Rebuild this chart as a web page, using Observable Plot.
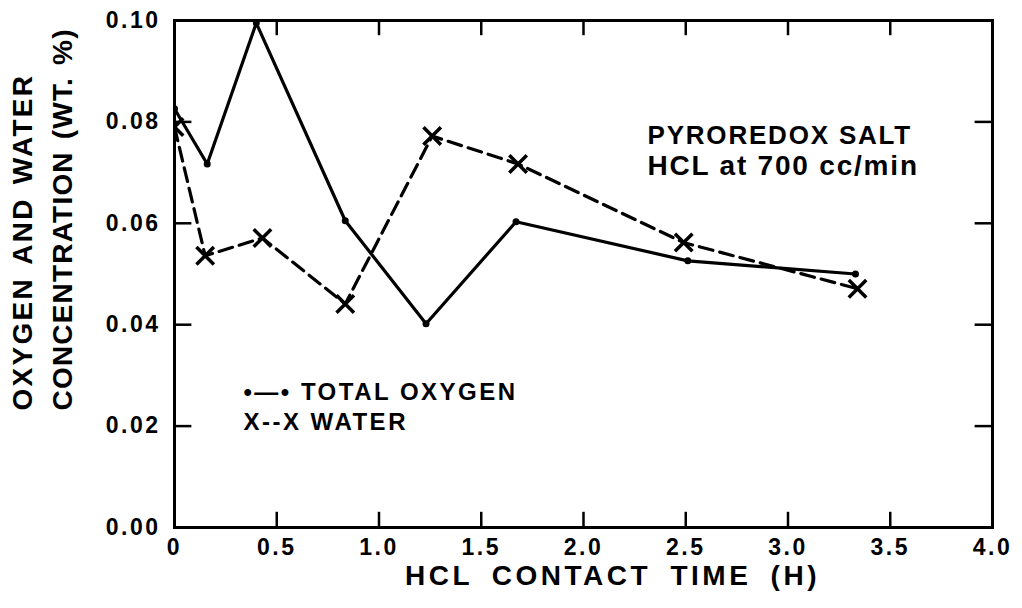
<!DOCTYPE html>
<html>
<head>
<meta charset="utf-8">
<script src="https://cdn.jsdelivr.net/npm/d3@7"></script>
<script src="https://cdn.jsdelivr.net/npm/@observablehq/plot@0.6"></script>
<style>
  html, body { margin: 0; padding: 0; background: #fff; }
  svg text { font-weight: bold; }
  g[aria-label="x-axis tick label"] text, g[aria-label="y-axis tick label"] text { letter-spacing: 2.5px; }
  .ttlx text { letter-spacing: 3.5px; word-spacing: 8px; }
  .ttly1 text { letter-spacing: 2.3px; word-spacing: 3px; }
  .ttly2 text { letter-spacing: 1.2px; word-spacing: 3px; }
  .leg text { letter-spacing: 2.5px; }
  .ann text { letter-spacing: 1.8px; }
</style>
</head>
<body>
<div id="chart"></div>
<script>
// Total oxygen (solid line with dots)
const oxygenTime = [0, 0.16, 0.40, 0.835, 1.23, 1.67, 2.51, 3.33];
const oxygenConc = [0.0826, 0.0717, 0.0995, 0.0605, 0.0402, 0.0603, 0.0526, 0.0500];
// Water (dashed line with x markers)
const waterTime = [0, 0.15, 0.43, 0.835, 1.26, 1.68, 2.49, 3.34];
const waterConc = [0.0790, 0.0536, 0.0571, 0.0441, 0.0772, 0.0717, 0.0562, 0.0471];
// Axis ticks
const xTicks = [0, 0.5, 1.0, 1.5, 2.0, 2.5, 3.0, 3.5, 4.0];
const yTicks = [0, 0.02, 0.04, 0.06, 0.08, 0.10];
const xLabels = ["0", "0.5", "1.0", "1.5", "2.0", "2.5", "3.0", "3.5", "4.0"];
const yLabels = ["0.00", "0.02", "0.04", "0.06", "0.08", "0.10"];

const oxygen = oxygenTime.map((t, i) => ({t, v: oxygenConc[i]}));
const water = waterTime.map((t, i) => ({t, v: waterConc[i]}));

const font = "'Liberation Sans', Arial, Helvetica, sans-serif";

const chart = Plot.plot({
  width: 1022,
  height: 608,
  marginLeft: 174,
  marginRight: 30,
  marginTop: 20,
  marginBottom: 81,
  style: {fontFamily: font, color: "#000", background: "#fff"},
  x: {domain: [0, 4], ticks: xTicks},
  y: {domain: [0, 0.1], ticks: yTicks},
  marks: [
    Plot.frame({stroke: "#000", strokeWidth: 3}),
    // inward ticks
    Plot.ruleX(xTicks.slice(1, -1), {x: d => d, y1: 0, y2: 0.003, stroke: "#000", strokeWidth: 2.5}),
    Plot.ruleX(xTicks.slice(1, -1), {x: d => d, y1: 0.1, y2: 0.097, stroke: "#000", strokeWidth: 2.5}),
    Plot.ruleY(yTicks.slice(1, -1), {y: d => d, x1: 0, x2: 0.085, stroke: "#000", strokeWidth: 2.5}),
    Plot.ruleY(yTicks.slice(1, -1), {y: d => d, x1: 4, x2: 3.915, stroke: "#000", strokeWidth: 2.5}),
    Plot.axisX(xTicks, {tickSize: 0, tickPadding: 11, fontSize: 23, tickFormat: (d) => xLabels[xTicks.indexOf(d)], label: null}),
    Plot.axisY(yTicks, {tickSize: 0, tickPadding: 14, fontSize: 23, tickFormat: d => yLabels[yTicks.indexOf(d)], label: null}),
    // data
    Plot.line(oxygen, {x: "t", y: "v", stroke: "#000", strokeWidth: 3.2}),
    Plot.dot(oxygen, {x: "t", y: "v", r: 3.5, fill: "#000", stroke: null, clip: true}),
    Plot.line(water, {x: "t", y: "v", stroke: "#000", strokeWidth: 3.2, strokeDasharray: "14,7"}),
    Plot.dot(water, {x: "t", y: "v", symbol: "times", r: 8, stroke: "#000", strokeWidth: 3.5, clip: true}),
    // legend
    Plot.text(["•—• TOTAL OXYGEN"], {x: 0.337, y: 0.0266, text: d => d, textAnchor: "start", fontSize: 24, className: "leg"}),
    Plot.text(["X--X WATER"], {x: 0.337, y: 0.0207, text: d => d, textAnchor: "start", fontSize: 24, className: "leg"}),
    // annotation
    Plot.text(["PYROREDOX SALT"], {x: 2.313, y: 0.0772, text: d => d, textAnchor: "start", fontSize: 26, className: "ann"}),
    Plot.text(["HCL at 700 cc/min"], {x: 2.313, y: 0.0712, text: d => d, textAnchor: "start", fontSize: 28, className: "ann"}),
    // axis titles
    Plot.text(["HCL CONTACT TIME (H)"], {frameAnchor: "bottom", dx: 29, dy: 49, text: d => d, lineAnchor: "middle", fontSize: 28, className: "ttlx"}),
    Plot.text(["OXYGEN AND WATER"], {frameAnchor: "bottom-left", dx: -151, dy: -117, rotate: -90, text: d => d, textAnchor: "start", lineAnchor: "middle", fontSize: 28, className: "ttly1"}),
    Plot.text(["CONCENTRATION (WT. %)"], {frameAnchor: "bottom-left", dx: -111, dy: -117, rotate: -90, text: d => d, textAnchor: "start", lineAnchor: "middle", fontSize: 28, className: "ttly2"})
  ]
});
document.getElementById("chart").appendChild(chart);
</script>
</body>
</html>
